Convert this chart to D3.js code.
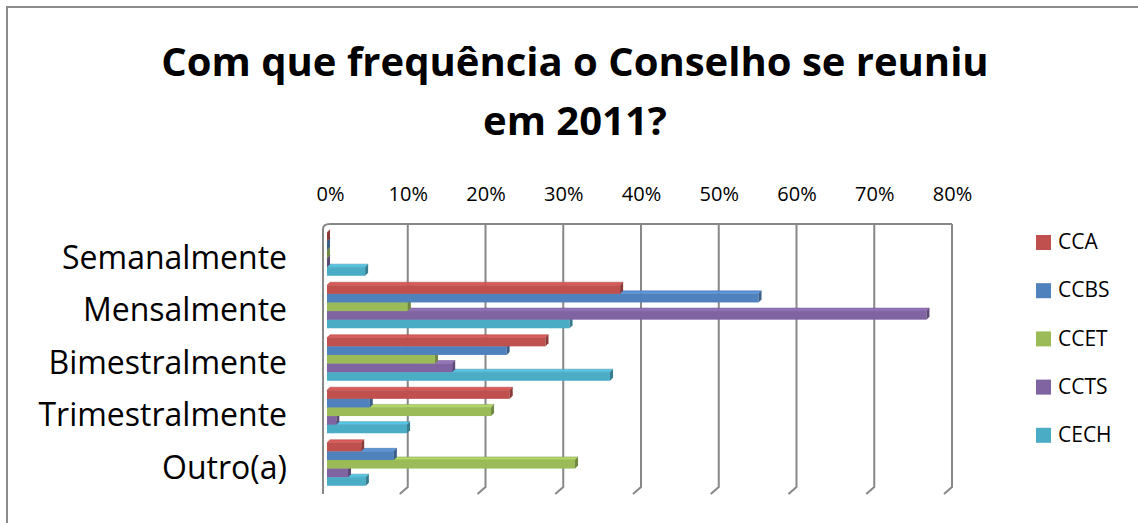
<!DOCTYPE html>
<html>
<head>
<meta charset="utf-8">
<script src="https://cdn.jsdelivr.net/npm/d3@7"></script>
<style>
  body { margin: 0; background: #fff; }
  text { font-family: "Open Sans", sans-serif; fill: #000; }
</style>
</head>
<body>
<div id="viz"></div>
<script>
// Com que frequência o Conselho se reuniu em 2011?
const categories = ["Semanalmente", "Mensalmente", "Bimestralmente", "Trimestralmente", "Outro(a)"];
const seriesNames = ["CCA", "CCBS", "CCET", "CCTS", "CECH"];
const seriesColors = ["#c0504d", "#4f81bd", "#9bbb59", "#8064a2", "#4bacc6"];
const tickValues = [0, 0.1, 0.2, 0.3, 0.4, 0.5, 0.6, 0.7, 0.8];

// share of each council, per category
const cca  = [0.000, 0.377, 0.281, 0.235, 0.044];
const ccbs = [0.000, 0.555, 0.231, 0.055, 0.086];
const ccet = [0.000, 0.104, 0.139, 0.211, 0.319];
const ccts = [0.000, 0.771, 0.161, 0.012, 0.027];
const cech = [0.049, 0.312, 0.364, 0.103, 0.050];
const seriesValues = [cca, ccbs, ccet, ccts, cech];

const width = 1138, height = 523;
const depth = 3;          // bar 3d offset
const floorDx = -8, floorDy = 7;

const svg = d3.select("#viz").append("svg")
    .attr("width", width)
    .attr("height", height);

// 1. chart border (only top/left visible in the crop)
svg.append("path")
    .attr("d", "M7,523 L7,7 L1138,7")
    .attr("fill", "none")
    .attr("stroke", "#8c8c8c")
    .attr("stroke-width", 2);

// 2. title
const title = svg.append("text")
    .attr("text-anchor", "middle")
    .attr("font-weight", "bold")
    .attr("font-size", 40);
title.append("tspan").attr("x", 575).attr("y", 76).text("Com que frequência o Conselho se reuniu");
title.append("tspan").attr("x", 575).attr("y", 135).text("em 2011?");

// 3. scales
const x = d3.scaleLinear().domain([0, 0.8]).range([330, 952]);
const y = d3.scaleBand().domain(categories).range([228, 490.5])
    .paddingInner(0.18).paddingOuter(0.09);
const ySeries = d3.scaleBand().domain(seriesNames).range([0, y.bandwidth()]);
const wallTop = 224, wallBottom = 487;

// 4. back wall gridlines + floor ticks
const grid = svg.append("g").attr("stroke", "#888").attr("stroke-width", 2).attr("fill", "none");
grid.selectAll("path.grid")
    .data(tickValues.slice(1))
    .enter().append("path")
    .attr("class", "grid")
    .attr("d", d => `M${x(d)},${wallTop} L${x(d)},${wallBottom} L${x(d) + floorDx},${wallBottom + floorDy}`);
// top edge and left wall
grid.append("path")
    .attr("d", `M${x(0.8)},${wallTop} L${x(0)},${wallTop} Q${x(0) - 7},${wallTop} ${x(0) - 7},${wallTop + 5} L${x(0) - 7},${wallBottom + floorDy}`);

// 5. axis labels on top
const xAxis = d3.axisTop(x).tickValues(tickValues).tickFormat(d3.format(".0%")).tickSize(0).tickPadding(0);
svg.append("g")
    .attr("transform", "translate(0,201)")
    .call(xAxis)
    .call(g => g.select(".domain").remove())
    .selectAll("text")
    .attr("font-size", 20)
    .attr("fill", "#000")
    .style("font-family", "'Open Sans', sans-serif");

// 6. category labels
svg.append("g").selectAll("text")
    .data(categories)
    .enter().append("text")
    .attr("x", 287)
    .attr("y", d => y(d) + y.bandwidth() / 2 + 6)
    .attr("text-anchor", "end")
    .attr("dominant-baseline", "middle")
    .attr("font-size", 32)
    .text(d => d);

// 7. 3d bars (bottom series first so upper fronts cover lower tops)
const bars = [];
categories.forEach((c, ci) => {
    seriesNames.forEach((s, si) => {
        bars.push({ cat: c, series: s, si: si, value: seriesValues[si][ci] });
    });
});
bars.sort((a, b) => b.si - a.si);

const barG = svg.append("g").selectAll("g")
    .data(bars)
    .enter().append("g");

const x0 = x(0) - depth;
const bh = ySeries.bandwidth();

barG.append("path")   // top face
    .attr("d", d => {
        const yy = y(d.cat) + ySeries(d.series), x1 = x(d.value) - depth;
        return `M${x0},${yy} L${x0 + depth},${yy - depth} L${x1 + depth},${yy - depth} L${x1},${yy} Z`;
    })
    .attr("fill", d => d3.color(seriesColors[d.si]).brighter(0.4))
    .attr("stroke", d => d3.color(seriesColors[d.si]).darker(0.5))
    .attr("stroke-width", 0.5);

barG.append("rect")   // front face
    .attr("x", x0)
    .attr("y", d => y(d.cat) + ySeries(d.series))
    .attr("width", d => x(d.value) - depth - x0)
    .attr("height", bh)
    .attr("fill", d => seriesColors[d.si]);

barG.append("path")   // end cap
    .attr("d", d => {
        const yy = y(d.cat) + ySeries(d.series), x1 = x(d.value) - depth;
        return `M${x1},${yy} L${x1 + depth},${yy - depth} L${x1 + depth},${yy + bh - depth} L${x1},${yy + bh} Z`;
    })
    .attr("fill", d => d3.color(seriesColors[d.si]).darker(0.9));

// 8. legend
const legend = svg.append("g").selectAll("g")
    .data(seriesNames)
    .enter().append("g")
    .attr("transform", (d, i) => `translate(1036,${242.5 + i * 48.2})`);
legend.append("rect")
    .attr("x", 0).attr("y", -7.5)
    .attr("width", 15).attr("height", 15)
    .attr("fill", (d, i) => seriesColors[i]);
legend.append("text")
    .attr("x", 22)
    .attr("y", 1)
    .attr("dominant-baseline", "middle")
    .attr("font-size", 21)
    .text(d => d);
</script>
</body>
</html>
